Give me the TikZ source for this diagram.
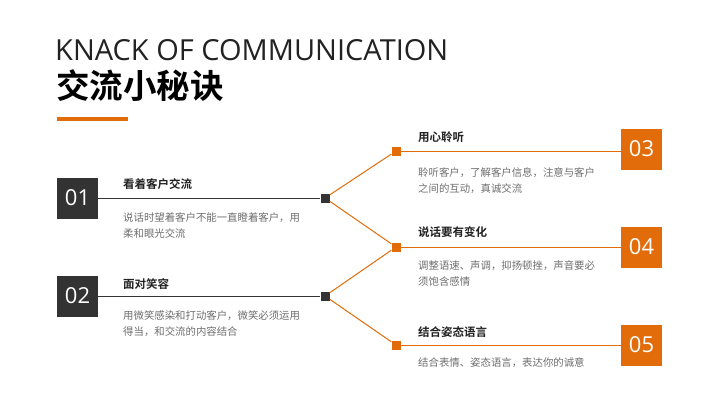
\documentclass[tikz,border=0pt]{standalone}
\usepackage{fontspec}
\setmainfont{Open Sans}
\newfontfamily\cjk{Noto Sans CJK SC}
\newfontfamily\cjkb{Noto Sans CJK SC Bold}
\definecolor{org}{HTML}{E36C0A}
\definecolor{drk}{HTML}{333333}
\definecolor{gtx}{HTML}{6E6E6E}
\definecolor{ttx}{HTML}{222222}
\begin{document}
\begin{tikzpicture}[x=1pt,y=-1pt,
  numbox/.style={minimum width=41pt,minimum height=41pt,inner sep=0pt,text=white,font=\fontsize{22}{22}\selectfont},
  darkbox/.style={numbox,fill=drk},
  orgbox/.style={numbox,fill=org},
  dsq/.style={minimum size=9pt,inner sep=0pt,fill=drk},
  osq/.style={minimum size=9pt,inner sep=0pt,fill=org},
  htitle/.style={anchor=west,inner sep=0pt,text=ttx,font=\cjkb\fontsize{11.5}{11.5}\selectfont},
  desc/.style={anchor=north west,inner sep=0pt,text=gtx,align=left,font=\cjk\fontsize{10.4}{16}\selectfont},
  dline/.style={drk,line width=1pt},
  oline/.style={org,line width=1pt}]
\useasboundingbox (0,0) rectangle (720,405);
\fill[white] (0,0) rectangle (720,405);
% titles
\node[anchor=base west,inner sep=0pt,text=ttx,font=\fontsize{29}{29}\selectfont] (t1) at (55,60) {KNACK OF COMMUNICATION};
\node[anchor=west,inner sep=0pt,text=black,font=\cjkb\fontsize{33.5}{33.5}\selectfont] (t2) at (56,86) {交流小秘诀};
\fill[org] (57,117) rectangle (128,121);
% left boxes
\node[darkbox] (b1) at (77.5,198) {01};
\node[darkbox] (b2) at (77.5,296) {02};
\node[dsq] (s1) at (325,198) {};
\node[dsq] (s2) at (325,296) {};
% right boxes
\node[orgbox] (b3) at (641.5,149) {03};
\node[orgbox] (b4) at (641.5,247) {04};
\node[orgbox] (b5) at (641.5,345) {05};
\node[osq] (s3) at (396,151) {};
\node[osq] (s4) at (396,247) {};
\node[osq] (s5) at (396,345) {};
% connectors
\draw[dline] (b1.east |- s1) -- (s1);
\draw[dline] (b2.east |- s2) -- (s2);
\draw[oline] (s1) -- (s3);
\draw[oline] (s1) -- (s4);
\draw[oline] (s2) -- (s4);
\draw[oline] (s2) -- (s5);
\draw[oline] (s3) -- (b3.west |- s3);
\draw[oline] (s4) -- (b4.west |- s4);
\draw[oline] (s5) -- (b5.west |- s5);
% texts
\node[htitle] (h1) at (123,184) {看着客户交流};
\node[desc] (d1) at (123,212.5) {说话时望着客户不能一直瞪着客户，用\\柔和眼光交流};
\node[htitle] (h2) at (123,284) {面对笑容};
\node[desc] (d2) at (123,310.5) {用微笑感染和打动客户，微笑必须运用\\得当，和交流的内容结合};
\node[htitle] (h3) at (418,137) {用心聆听};
\node[desc] (d3) at (418,167.5) {聆听客户，了解客户信息，注意与客户\\之间的互动，真诚交流};
\node[htitle] (h4) at (418,232) {说话要有变化};
\node[desc] (d4) at (418,260.5) {调整语速、声调，抑扬顿挫，声音要必\\须饱含感情};
\node[htitle] (h5) at (418,332) {结合姿态语言};
\node[desc] (d5) at (418,357.5) {结合表情、姿态语言，表达你的诚意};
\end{tikzpicture}
\end{document}
